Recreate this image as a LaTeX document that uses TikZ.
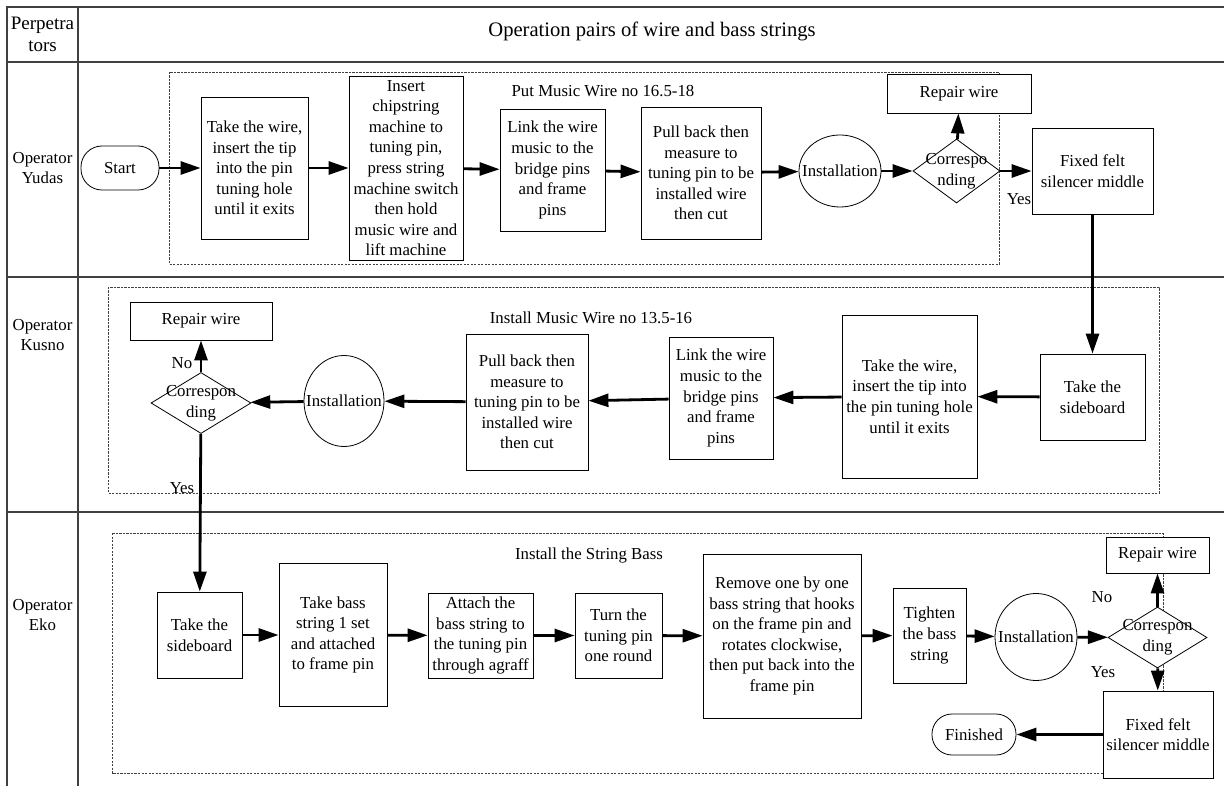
\documentclass[tikz,border=0pt]{standalone}
\usepackage{fontspec}
\setmainfont{Liberation Serif}
\usetikzlibrary{arrows.meta,shapes.geometric}
\begin{document}
\begin{tikzpicture}[x=1pt,y=-1pt,
  every node/.style={font=\fontsize{16.8}{20.6}\selectfont},
  box/.style={draw, line width=0.8pt, fill=white, align=center, inner sep=0pt},
  ell/.style={ellipse, draw, line width=0.8pt, fill=white, inner sep=0pt},
  dia/.style={diamond, draw, line width=0.8pt, fill=white, inner sep=0pt},
  tab/.style={line width=1.1pt, draw=black!75},
  grp/.style={draw=black!75, line width=0.6pt, dash pattern=on 2.2pt off 1.3pt},
  arr/.style={line width=2.8pt, -{Triangle[length=20pt 0,width=13pt 0]}},
  hdr/.style={font=\fontsize{19}{22}\selectfont, align=center},
  ttl/.style={font=\fontsize{20.6}{24}\selectfont},
  lanelbl/.style={align=center}
]
\useasboundingbox (0,0) rectangle (1224,786);
\fill[white] (0,0) rectangle (1224,786);

% table
\draw[tab] (7,786) -- (7,7) -- (1224,7);
\draw[tab] (7,62) -- (1224,62);
\draw[tab] (78,7) -- (78,786);
\draw[tab] (7,277) -- (1224,277);
\draw[tab] (7,512) -- (1224,512);

\node[hdr] (hp) at (42.5,34) {Perpetra\\tors};
\node[ttl] (ht) at (652,31) {Operation pairs of wire and bass strings};
\node[lanelbl] (l1) at (42.5,168) {Operator\\Yudas};
\node[lanelbl] (l2) at (42.5,335) {Operator\\Kusno};
\node[lanelbl] (l3) at (42.5,615) {Operator\\Eko};

% group frames
\draw[grp] (169,72) rectangle (999,264);
\draw[grp] (108,287) rectangle (1159,493);
\draw[grp] (112,533) rectangle (1163,773);

\node (g1) at (603,91) {Put Music Wire no 16.5-18};
\node (g2) at (591,318) {Install Music Wire no 13.5-16};
\node (g3) at (589,555) {Install the String Bass};

% lane Yudas
\node[box, rounded corners=21pt, minimum width=78pt, minimum height=44pt] (start) at (120,168) {Start};
\node[box, minimum width=107pt, minimum height=142pt] (a1) at (254.5,168) {Take the wire,\\insert the tip\\into the pin\\tuning hole\\until it exits};
\node[box, minimum width=114pt, minimum height=184pt] (a2) at (406,168) {Insert\\chipstring\\machine to\\tuning pin,\\press string\\machine switch\\then hold\\music wire and\\lift machine};
\node[box, minimum width=105pt, minimum height=122pt] (a3) at (552.5,170) {Link the wire\\music to the\\bridge pins\\and frame\\pins};
\node[box, minimum width=120pt, minimum height=132pt] (a4) at (701,173) {Pull back then\\measure to\\tuning pin to be\\installed wire\\then cut};
\node[ell, minimum width=82pt, minimum height=72pt, label=center:Installation] (i1) at (840,171) {};
\node[dia, minimum width=87pt, minimum height=64pt, label={[align=center]center:{Correspo\\nding}}] (d1) at (956.5,171) {};
\node[box, minimum width=144pt, minimum height=39pt] (r1) at (959,93.5) {Repair wire};
\node[box, minimum width=121pt, minimum height=86pt] (f1) at (1092.5,171) {Fixed felt\\silencer middle};
\node (y1) at (1019,199) {Yes};

% lane Kusno
\node[box, minimum width=105pt, minimum height=86pt] (b1) at (1092.5,397) {Take the\\sideboard};
\node[box, minimum width=135pt, minimum height=163pt] (b2) at (909.5,396.5) {Take the wire,\\insert the tip into\\the pin tuning hole\\until it exits};
\node[box, minimum width=104pt, minimum height=122pt] (b3) at (721,398) {Link the wire\\music to the\\bridge pins\\and frame\\pins};
\node[box, minimum width=122pt, minimum height=136pt] (b4) at (527,402) {Pull back then\\measure to\\tuning pin to be\\installed wire\\then cut};
\node[ell, minimum width=80pt, minimum height=91pt, label=center:Installation] (i2) at (344,401) {};
\node[dia, minimum width=100pt, minimum height=61pt, label={[align=center]center:{Correspon\\ding}}] (d2) at (201,403) {};
\node[box, minimum width=142pt, minimum height=38pt] (r2) at (201,321) {Repair wire};
\node (n2) at (182,363) {No};
\node (y2) at (182,488) {Yes};

% lane Eko
\node[box, minimum width=85pt, minimum height=86pt] (c1) at (199.5,635) {Take the\\sideboard};
\node[box, minimum width=108pt, minimum height=143pt] (c2) at (333,635) {Take bass\\string 1 set\\and attached\\to frame pin};
\node[box, minimum width=105pt, minimum height=85pt] (c3) at (480.5,635.5) {Attach the\\bass string to\\the tuning pin\\through agraff};
\node[box, minimum width=87pt, minimum height=85pt] (c4) at (618.5,635.5) {Turn the\\tuning pin\\one round};
\node[box, minimum width=158pt, minimum height=164pt] (c5) at (782,636) {Remove one by one\\bass string that hooks\\on the frame pin and\\rotates clockwise,\\then put back into the\\frame pin};
\node[box, minimum width=73pt, minimum height=95pt] (c6) at (929.5,635.5) {Tighten\\the bass\\string};
\node[ell, minimum width=82pt, minimum height=87pt, label=center:Installation] (i3) at (1036,637) {};
\node[dia, minimum width=99pt, minimum height=61pt, label={[align=center]center:{Correspon\\ding}}] (d3) at (1157.5,637.5) {};
\node[box, minimum width=103pt, minimum height=36pt] (r3) at (1157.5,555) {Repair wire};
\node[box, minimum width=110pt, minimum height=87pt] (f3) at (1158,734.5) {Fixed felt\\silencer middle};
\node[box, rounded corners=20pt, minimum width=84pt, minimum height=41pt] (fin) at (974,734.5) {Finished};
\node (n3) at (1102,597) {No};
\node (y3) at (1103,672) {Yes};

% connectors
\draw[arr] (start) -- (a1);
\draw[arr] (a1) -- (a2);
\draw[arr] (a2) -- (a3);
\draw[arr] (a3) -- (a4);
\draw[arr] (a4) -- (i1);
\draw[arr] (i1) -- (d1);
\draw[arr] (d1) -- (r1);
\draw[arr] (d1) -- (f1);
\draw[arr] (f1) -- (b1);

\draw[arr] (b1) -- (b2);
\draw[arr] (b2) -- (b3);
\draw[arr] (b3) -- (b4);
\draw[arr] (b4) -- (i2);
\draw[arr] (i2) -- (d2);
\draw[arr] (d2) -- (r2);
\draw[arr] (d2) -- (c1);

\draw[arr] (c1) -- (c2);
\draw[arr] (c2) -- (c3);
\draw[arr] (c3) -- (c4);
\draw[arr] (c4) -- (c5);
\draw[arr] (c5) -- (c6);
\draw[arr] (c6) -- (i3);
\draw[arr] (i3) -- (d3);
\draw[arr] (d3) -- (r3);
\draw[arr] (d3) -- (f3);
\draw[arr] (f3) -- (fin);
\end{tikzpicture}
\end{document}
